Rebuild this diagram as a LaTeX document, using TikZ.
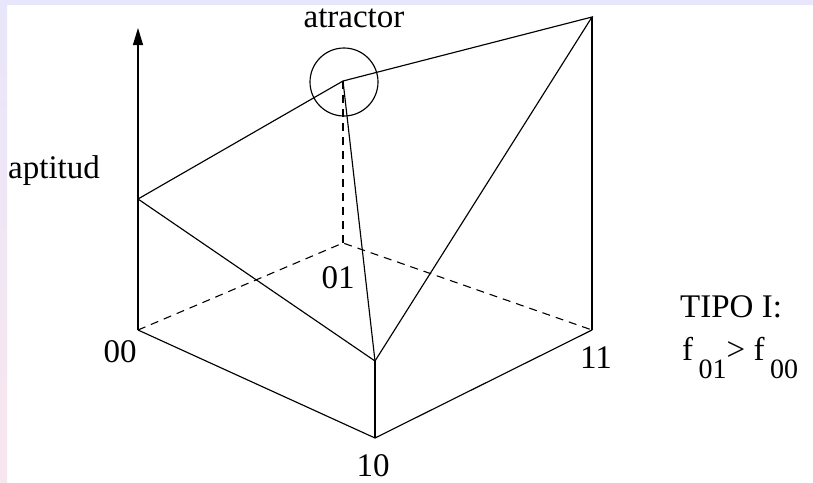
\documentclass[tikz,border=0pt]{standalone}
\usepackage{fontspec}
\setmainfont{Liberation Serif}
\usepackage{tikz}
\usetikzlibrary{arrows.meta, positioning}
\definecolor{bandtop}{RGB}{232,230,250}
\definecolor{bandbot}{RGB}{248,230,238}
\newcommand{\lowsub}[1]{\,\raisebox{-18pt}{\fontsize{28}{30}\selectfont #1}}

\begin{document}
\begin{tikzpicture}[
  x=1pt, y=-1pt,
  edge/.style={line width=1.15pt},
  hidden/.style={line width=1.1pt, dash pattern=on 8pt off 6pt},
  lbl/.style={inner sep=0pt, font=\fontsize{33}{36}\selectfont},
  arrow/.style={-{Triangle[length=17pt, width=10pt]}, line width=1.15pt}
]
\useasboundingbox (0,0) rectangle (813,482);
\fill[white] (0,0) rectangle (813,482);
\fill[bandtop] (0,0) rectangle (813,5);
\shade[top color=bandtop, bottom color=bandbot] (0,0) rectangle (7,482);

% base corners and fitness values
\coordinate (b00) at (138,330);
\coordinate (b10) at (375,438);
\coordinate (b11) at (592,330);
\coordinate (b01) at (343,243);
\coordinate (t00) at (138,199);
\coordinate (t10) at (375,361);
\coordinate (t11) at (592,17);
\coordinate (t01) at (343,81);
\coordinate (axtop) at (138,28);

\draw[hidden] (b00) -- (b01) -- (b11);
\draw[hidden] (b01) -- (t01);
\draw[edge] (b00) -- (b10) -- (b11);
\draw[edge] (b10) -- (t10);
\draw[edge] (b11) -- (t11);
\draw[arrow] (b00) -- (axtop);
\draw[edge] (t00) -- (t01) -- (t11) -- (t10) -- (t00);
\draw[edge] (t01) -- (t10);
\draw[edge] (344,82) circle (34);

\node[lbl, anchor=base] (atr) at (354,27) {atractor};
\node[lbl, anchor=base west] (apt) at (8,178) {aptitud};
\node[lbl, anchor=base] (l00) at (120,362) {00};
\node[lbl, anchor=base] (l01) at (338,288) {01};
\node[lbl, anchor=base] (l10) at (373,476) {10};
\node[lbl, anchor=base] (l11) at (596,368) {11};
\node[lbl, anchor=base west] (tipo) at (680,317) {TIPO I:};
\node[lbl, anchor=base west] (cond) at (682,360) {f\lowsub{01}> f\lowsub{00}};
\end{tikzpicture}
\end{document}
